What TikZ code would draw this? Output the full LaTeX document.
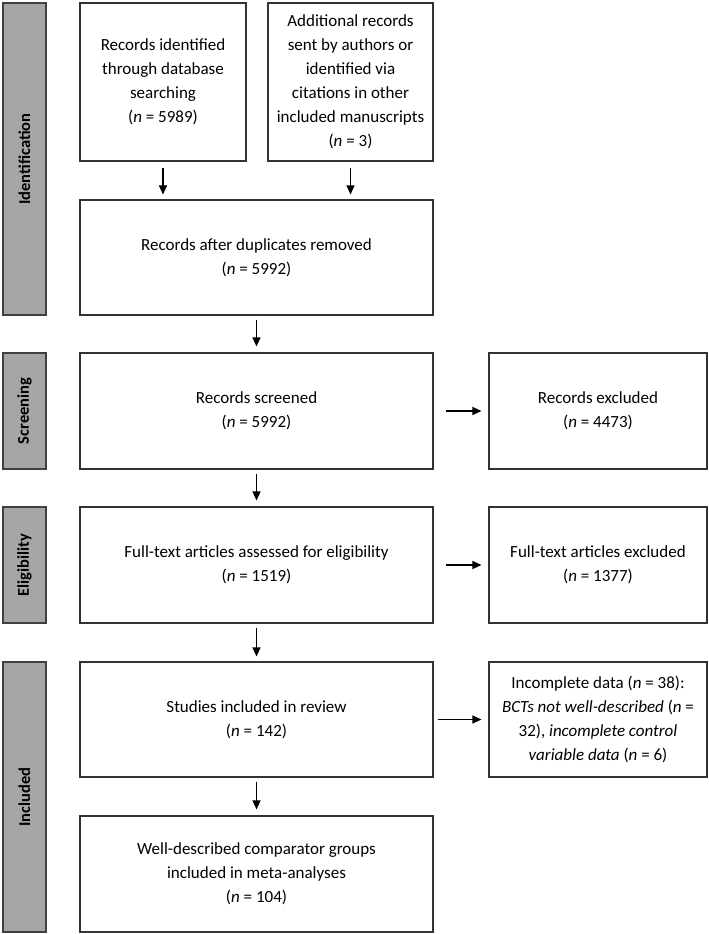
\documentclass[tikz,border=0pt]{standalone}
\usepackage{fontspec}
\setmainfont{Carlito}
\usetikzlibrary{arrows.meta}

\begin{document}
\begin{tikzpicture}[x=1pt,y=-1pt,
  box/.style={draw=black!80,line width=1.1pt,fill=white,align=center,inner sep=0pt,
    font=\fontsize{17}{24}\selectfont},
  stage/.style={draw=black!75,line width=1.1pt,fill=black!35,inner sep=0pt,rotate=90,
    minimum height=43pt,font=\bfseries\fontsize{16.5}{20}\selectfont},
  flow/.style={-{Triangle[length=9pt,width=8pt]},line width=1.1pt}]
  \useasboundingbox (0,0) rectangle (709,934);

  \node[stage,minimum width=312pt] (lid)  at (24.5,159) {Identification};
  \node[stage,minimum width=116pt] (lscr) at (24.5,411) {Screening};
  \node[stage,minimum width=116pt] (lel)  at (24.5,565) {Eligibility};
  \node[stage,minimum width=270pt] (linc) at (24.5,797) {Included};

  \node[box,minimum width=166pt,minimum height=158pt] (db) at (163,82)
    {Records identified\\through database\\searching\\(\textit{n} = 5989)};
  \node[box,minimum width=165pt,minimum height=158pt] (add) at (350.5,82)
    {Additional records\\sent by authors or\\identified via\\citations in other\\included manuscripts\\(\textit{n} = 3)};
  \node[box,minimum width=353pt,minimum height=115pt] (dup) at (256.5,257.5)
    {Records after duplicates removed\\(\textit{n} = 5992)};
  \node[box,minimum width=353pt,minimum height=116pt] (scr) at (256.5,411)
    {Records screened\\(\textit{n} = 5992)};
  \node[box,minimum width=218pt,minimum height=116pt] (exc) at (598,411)
    {Records excluded\\(\textit{n} = 4473)};
  \node[box,minimum width=353pt,minimum height=116pt] (ft) at (256.5,565)
    {Full-text articles assessed for eligibility\\(\textit{n} = 1519)};
  \node[box,minimum width=218pt,minimum height=116pt] (ftx) at (598,565)
    {Full-text articles excluded\\(\textit{n} = 1377)};
  \node[box,minimum width=353pt,minimum height=115pt] (inc) at (256.5,719.5)
    {Studies included in review\\(\textit{n} = 142)};
  \node[box,minimum width=218pt,minimum height=115pt] (icd) at (598,719.5)
    {Incomplete data (\textit{n} = 38):\\\textit{BCTs not well-described} (\textit{n} =\\32), \textit{incomplete control}\\\textit{variable data} (\textit{n} = 6)};
  \node[box,minimum width=353pt,minimum height=116pt] (meta) at (256.5,874)
    {Well-described comparator groups\\included in meta-analyses\\(\textit{n} = 104)};

  \draw[flow,shorten <=6pt,shorten >=5pt] (db) -- (db |- dup.north);
  \draw[flow,shorten <=6pt,shorten >=5pt] (add) -- (add |- dup.north);
  \draw[flow,shorten <=4pt,shorten >=6pt] (dup) -- (scr);
  \draw[flow,shorten <=4pt,shorten >=6pt] (scr) -- (ft);
  \draw[flow,shorten <=4pt,shorten >=5pt] (ft) -- (inc);
  \draw[flow,shorten <=4pt,shorten >=6pt] (inc) -- (meta);
  \draw[flow,shorten <=12pt,shorten >=7pt] (scr) -- (exc);
  \draw[flow,shorten <=12pt,shorten >=7pt] (ft) -- (ftx);
  \draw[flow,shorten <=4pt,shorten >=7pt] (inc) -- (icd);
\end{tikzpicture}
\end{document}
